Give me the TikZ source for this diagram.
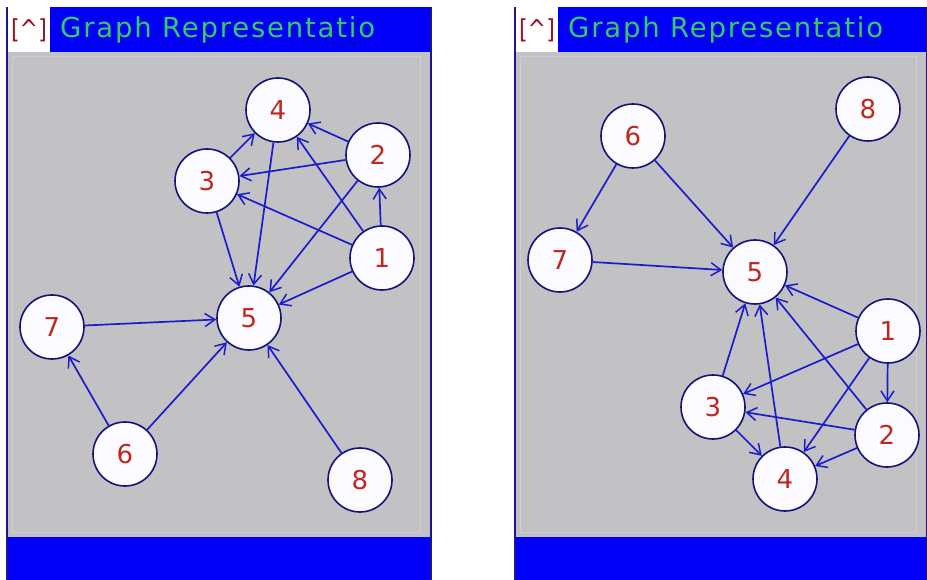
\documentclass[tikz,border=0pt]{standalone}
\usepackage{fontspec}
\setmainfont{DejaVu Sans}
\newfontfamily\titlefont[LetterSpace=6.5]{DejaVu Sans}
\usetikzlibrary{arrows.meta}

\definecolor{barblue}{RGB}{0,0,248}
\definecolor{framedark}{RGB}{30,20,140}
\definecolor{canvasgray}{RGB}{194,193,196}
\definecolor{canvasedge}{RGB}{206,204,220}
\definecolor{edgeblue}{RGB}{28,28,205}
\definecolor{ringblue}{RGB}{20,20,120}
\definecolor{discwhite}{RGB}{250,250,255}
\definecolor{digitred}{RGB}{190,40,30}
\definecolor{titlegreen}{RGB}{50,205,100}
\definecolor{iconred}{RGB}{150,20,40}

\tikzset{
  vertex/.style={circle, draw=ringblue, fill=discwhite, line width=1.6pt,
    minimum size=64pt, inner sep=0pt, text=digitred,
    font=\fontsize{26}{26}\selectfont},
  arc/.style={draw=edgeblue, line width=1.7pt,
    -{Straight Barb[length=10pt,width=13pt,line width=1.5pt]}},
  titletext/.style={anchor=west, inner sep=0pt, text=titlegreen,
    font=\titlefont\fontsize{27.5}{27.5}\selectfont},
  icontext/.style={inner sep=0pt, text=iconred, xscale=0.85,
    font=\fontsize{26}{26}\selectfont}
}

\begin{document}
\begin{tikzpicture}[x=1pt,y=-1pt]
  \useasboundingbox[fill=white] (0,0) rectangle (927,580);

  % window frames: title bar, canvas, status bar
  \foreach \xa/\xb in {7/431, 515/927} {
    \fill[canvasgray] (\xa,52) rectangle (\xb,537);
    \draw[canvasedge, line width=1pt] (\xa+5,57) rectangle (\xb-11,532);
    \fill[barblue] (\xa,7) rectangle (\xb,52);
    \fill[barblue] (\xa,537) rectangle (\xb,580);
    \draw[framedark, line width=1.2pt] (\xa,7) -- (\xa,580);
    \draw[framedark, line width=1.2pt] (\xb,7) -- (\xb,580);
    \fill[white] (\xa+1,7) rectangle (\xa+43,52);
  }

  % left window
  \node[icontext] (iconL) at (29,30) {[\char`\^]};
  \node[titletext] (titleL) at (60,30) {Graph Representatio};

  \node[vertex] (L1) at (382,258) {1};
  \node[vertex] (L2) at (378,155) {2};
  \node[vertex] (L3) at (207,181) {3};
  \node[vertex] (L4) at (278,110) {4};
  \node[vertex] (L5) at (249,318) {5};
  \node[vertex] (L6) at (125,454) {6};
  \node[vertex] (L7) at (52,327) {7};
  \node[vertex] (L8) at (360,480) {8};

  \foreach \s/\t in {1/2,1/3,1/4,1/5,2/3,2/4,2/5,3/4,3/5,4/5,6/7,6/5,7/5,8/5}
    \draw[arc] (L\s) -- (L\t);

  % right window
  \node[icontext] (iconR) at (537,30) {[\char`\^]};
  \node[titletext] (titleR) at (568,30) {Graph Representatio};

  \node[vertex] (R1) at (888,331) {1};
  \node[vertex] (R2) at (887,435) {2};
  \node[vertex] (R3) at (713,407) {3};
  \node[vertex] (R4) at (785,479) {4};
  \node[vertex] (R5) at (755,272) {5};
  \node[vertex] (R6) at (633,136) {6};
  \node[vertex] (R7) at (560,260) {7};
  \node[vertex] (R8) at (868,109) {8};

  \foreach \s/\t in {1/2,1/3,1/4,1/5,2/3,2/4,2/5,3/4,3/5,4/5,6/7,6/5,7/5,8/5}
    \draw[arc] (R\s) -- (R\t);
\end{tikzpicture}
\end{document}
